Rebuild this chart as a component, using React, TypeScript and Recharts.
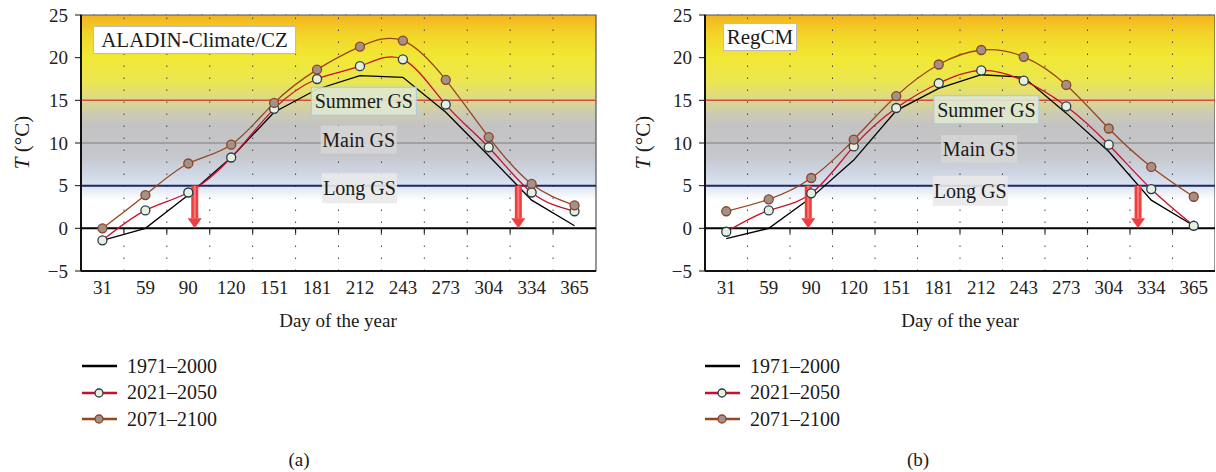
import React from "react";
import {
  LineChart,
  Line,
  XAxis,
  YAxis,
  CartesianGrid,
  ReferenceLine,
  ReferenceArea,
  ReferenceDot,
} from "recharts";

// ---------- data ----------
const DAYS = [31, 59, 90, 120, 151, 181, 212, 243, 273, 304, 334, 365];
const Y_TICKS = [-5, 0, 5, 10, 15, 20, 25];

const ALADIN_1971_2000 = [-1.4, 0, 3.9, 8.3, 13.6, 16.3, 17.9, 17.7, 13.6, 8.5, 3.3, 0.3];
const ALADIN_2021_2050 = [-1.4, 2.1, 4.2, 8.3, 14.0, 17.5, 19.0, 19.8, 14.5, 9.5, 4.2, 2.0];
const ALADIN_2071_2100 = [0, 3.9, 7.6, 9.8, 14.7, 18.6, 21.3, 22.0, 17.4, 10.7, 5.2, 2.7];

const REGCM_1971_2000 = [-1.2, 0, 3.6, 8.0, 13.8, 16.4, 18.0, 17.7, 13.5, 9.0, 3.3, 0.3];
const REGCM_2021_2050 = [-0.4, 2.1, 4.1, 9.6, 14.1, 17.0, 18.5, 17.3, 14.3, 9.8, 4.6, 0.3];
const REGCM_2071_2100 = [2.0, 3.4, 5.9, 10.4, 15.5, 19.2, 20.9, 20.1, 16.8, 11.7, 7.2, 3.7];

// positions (category index) of the red arrows
const ALADIN_ARROWS = [2.15, 9.69];
const REGCM_ARROWS = [1.93, 9.69];

// growing-season thresholds
const THRESHOLDS = [
  { name: "Summer GS", value: 15 },
  { name: "Main GS", value: 10 },
  { name: "Long GS", value: 5 },
];

// label positions [index, value]
const ALADIN_LABELS = [
  [6.09, 14.9],
  [5.97, 10.4],
  [5.99, 4.7],
];
const REGCM_LABELS = [
  [6.12, 13.9],
  [5.95, 9.3],
  [5.74, 4.4],
];

const SERIES = [
  { key: "s1", name: "1971–2000", color: "#000000", dot: null as any, curve: "linear" },
  { key: "s2", name: "2021–2050", color: "#c8102e", dot: { fill: "#e6f0da", stroke: "#263a52" }, curve: "natural" },
  { key: "s3", name: "2071–2100", color: "#96461f", dot: { fill: "#a39189", stroke: "#8a4424" }, curve: "natural" },
];

const FONT = "'Liberation Serif', 'DejaVu Serif', serif";

const LABEL_STYLES = [
  { w: 105, h: 28, fill: "#dfe8d2", stroke: "#a9c6e6" },
  { w: 76, h: 28, fill: "#d5d5d5", stroke: "none" },
  { w: 75, h: 30, fill: "#e9e9e9", stroke: "none" },
];

const THRESH_STYLES = [
  { stroke: "#d24848", width: 1.5 },
  { stroke: "#7c7c7c", width: 1.2 },
  { stroke: "#1c2a66", width: 2 },
];

function buildData(a: number[], b: number[], c: number[]) {
  return DAYS.map((d, i) => ({ idx: i, day: d, s1: a[i], s2: b[i], s3: c[i] }));
}

const BOUNDARIES = DAYS.slice(0, -1).map((_, i) => i + 0.5);

const Arrow = (props: any) => {
  const { x1, y1, y2 } = props;
  const top = Math.min(y1, y2);
  const bot = Math.max(y1, y2);
  const head = 10;
  return (
    <g>
      <rect x={x1 - 3.5} y={top} width={7} height={bot - top - head} fill="#ef3e3e" />
      <rect x={x1 - 1} y={top} width={2} height={bot - top - head} fill="#f67a7a" />
      <polygon
        points={`${x1 - 7},${bot - head} ${x1 + 7},${bot - head} ${x1},${bot}`}
        fill="#ef3e3e"
      />
    </g>
  );
};

const makeLabel = (i: number) => (props: any) => {
  const { cx, cy } = props;
  const st = LABEL_STYLES[i];
  return (
    <g>
      <rect
        x={cx - st.w / 2}
        y={cy - st.h / 2}
        width={st.w}
        height={st.h}
        fill={st.fill}
        fillOpacity={0.9}
        stroke={st.stroke}
        strokeWidth={1}
      />
      <text x={cx} y={cy + 7} textAnchor="middle" fontFamily={FONT} fontSize={20} fill="#1a1a1a">
        {THRESHOLDS[i].name}
      </text>
    </g>
  );
};

function Panel(props: {
  data: any[];
  arrows: number[];
  labels: number[][];
  width: number;
  rightMargin: number;
  gid: string;
}) {
  const { data, arrows, labels, width, rightMargin, gid } = props;
  return (
    <LineChart
      width={width}
      height={300}
      data={data}
      margin={{ top: 15, right: rightMargin, bottom: 0, left: 0 }}
    >
      <defs>
        <linearGradient id={gid} x1="0" y1="0" x2="0" y2="1">
          <stop offset="0%" stopColor="#f4b41e" />
          <stop offset="11%" stopColor="#f3d52a" />
          <stop offset="23%" stopColor="#f1e834" />
          <stop offset="36%" stopColor="#ebe652" />
          <stop offset="46%" stopColor="#dcd98a" />
          <stop offset="54%" stopColor="#cbc9b6" />
          <stop offset="60%" stopColor="#c3c3c3" />
          <stop offset="76%" stopColor="#c6c7cc" />
          <stop offset="86%" stopColor="#cfd7e6" />
          <stop offset="93%" stopColor="#dfe6f1" />
          <stop offset="100%" stopColor="#ffffff" />
        </linearGradient>
      </defs>
      <ReferenceArea x1={-0.5} x2={11.5} y1={3.3} y2={25} fill={`url(#${gid})`} fillOpacity={1} stroke="none" />
      <ReferenceArea x1={-0.5} x2={11.5} y1={-5} y2={25} fill="none" stroke="#555" strokeWidth={1.2} />
      <CartesianGrid vertical={false} stroke="#444" strokeDasharray="1.5 10.5" />
      {BOUNDARIES.map((b) => (
        <ReferenceLine key={"v" + b} x={b} stroke="#444" strokeDasharray="1.5 10.5" />
      ))}
      {BOUNDARIES.map((b) => (
        <ReferenceLine
          key={"t" + b}
          segment={[
            { x: b, y: 0 },
            { x: b, y: -0.6 },
          ]}
          stroke="#222"
          strokeWidth={1.2}
        />
      ))}
      {THRESHOLDS.map((t, i) => (
        <ReferenceLine
          key={t.name}
          y={t.value}
          stroke={THRESH_STYLES[i].stroke}
          strokeWidth={THRESH_STYLES[i].width}
        />
      ))}
      <ReferenceLine y={0} stroke="#000" strokeWidth={2} />
      <XAxis
        dataKey="idx"
        type="number"
        domain={[-0.5, 11.5]}
        ticks={DAYS.map((_, i) => i)}
        tickFormatter={(v: number) => String(DAYS[v])}
        height={29}
        tickLine={false}
        tickMargin={4}
        axisLine={{ stroke: "#111", strokeWidth: 2 }}
        tick={{ fontFamily: FONT, fontSize: 19, fill: "#222" }}
        allowDataOverflow
      />
      <YAxis
        domain={[-5, 25]}
        ticks={Y_TICKS}
        width={81}
        tickMargin={7}
        tickSize={6}
        tickFormatter={(v: number) => (v < 0 ? "−" + Math.abs(v) : String(v))}
        axisLine={{ stroke: "#111", strokeWidth: 2 }}
        tickLine={{ stroke: "#111" }}
        tick={{ fontFamily: FONT, fontSize: 19, fill: "#222" }}
        allowDataOverflow
      />
      {SERIES.map((s) => (
        <Line
          key={s.key}
          dataKey={s.key}
          type={s.curve as any}
          stroke={s.color}
          strokeWidth={1.3}
          isAnimationActive={false}
          dot={s.dot ? { r: 4.5, fill: s.dot.fill, stroke: s.dot.stroke, strokeWidth: 1.3 } : false}
          activeDot={false}
        />
      ))}
      {arrows.map((a) => (
        <ReferenceLine
          key={"a" + a}
          segment={[
            { x: a, y: 5 },
            { x: a, y: 0 },
          ]}
          shape={Arrow}
        />
      ))}
      {labels.map((l, i) => (
        <ReferenceDot key={"l" + i} x={l[0]} y={l[1]} r={1} shape={makeLabel(i)} />
      ))}
    </LineChart>
  );
}

function Legend({ left }: { left: number }) {
  return (
    <div style={{ position: "absolute", left, top: 353, fontFamily: FONT, fontSize: 20, color: "#1a1a1a" }}>
      {SERIES.map((s) => (
        <div key={s.key} style={{ display: "flex", alignItems: "center", height: 26.5 }}>
          <svg width={46} height={14} style={{ display: "block" }}>
            <line x1={1} y1={7} x2={36} y2={7} stroke={s.color} strokeWidth={2.5} />
            {s.dot ? <circle cx={18} cy={7} r={4} fill={s.dot.fill} stroke={s.dot.stroke} strokeWidth={1.3} /> : null}
          </svg>
          <span>{s.name}</span>
        </div>
      ))}
    </div>
  );
}

function YLabel({ cx }: { cx: number }) {
  return (
    <div
      style={{
        position: "absolute",
        left: cx - 40,
        top: 130,
        width: 80,
        textAlign: "center",
        transform: "rotate(-90deg)",
        fontFamily: FONT,
        fontSize: 21,
        color: "#1a1a1a",
        whiteSpace: "nowrap",
      }}
    >
      <i>T</i> (°C)
    </div>
  );
}

function TitleBox({ left, top, width, text }: { left: number; top: number; width: number; text: string }) {
  return (
    <div
      style={{
        position: "absolute",
        left,
        top,
        width,
        height: 28,
        boxSizing: "border-box",
        background: "#fff",
        border: "1.5px solid #bdbdbd",
        fontFamily: FONT,
        fontSize: 21,
        lineHeight: "26px",
        textAlign: "center",
        color: "#1a1a1a",
        whiteSpace: "nowrap",
      }}
    >
      {text}
    </div>
  );
}

function Caption({ cx, top, text, size }: { cx: number; top: number; text: string; size: number }) {
  return (
    <div
      style={{
        position: "absolute",
        left: cx - 100,
        top,
        width: 200,
        textAlign: "center",
        fontFamily: FONT,
        fontSize: size,
        color: "#1a1a1a",
      }}
    >
      {text}
    </div>
  );
}

export default function App() {
  const aladin = buildData(ALADIN_1971_2000, ALADIN_2021_2050, ALADIN_2071_2100);
  const regcm = buildData(REGCM_1971_2000, REGCM_2021_2050, REGCM_2071_2100);
  return (
    <div style={{ position: "absolute", left: 0, top: 0, width: 1216, height: 472, background: "#fff", overflow: "hidden" }}>
      <div style={{ position: "absolute", left: 0, top: 0 }}>
        <Panel data={aladin} arrows={ALADIN_ARROWS} labels={ALADIN_LABELS} width={610} rightMargin={14} gid="gradA" />
      </div>
      <div style={{ position: "absolute", left: 624, top: 0 }}>
        <Panel data={regcm} arrows={REGCM_ARROWS} labels={REGCM_LABELS} width={591} rightMargin={0} gid="gradB" />
      </div>
      <TitleBox left={93} top={26} width={203} text="ALADIN-Climate/CZ" />
      <TitleBox left={723} top={23} width={74} text="RegCM" />
      <YLabel cx={22} />
      <YLabel cx={643} />
      <Caption cx={338} top={310} text="Day of the year" size={19} />
      <Caption cx={960} top={310} text="Day of the year" size={19} />
      <Legend left={81} />
      <Legend left={704} />
      <Caption cx={299} top={449} text="(a)" size={19} />
      <Caption cx={918} top={449} text="(b)" size={19} />
    </div>
  );
}
